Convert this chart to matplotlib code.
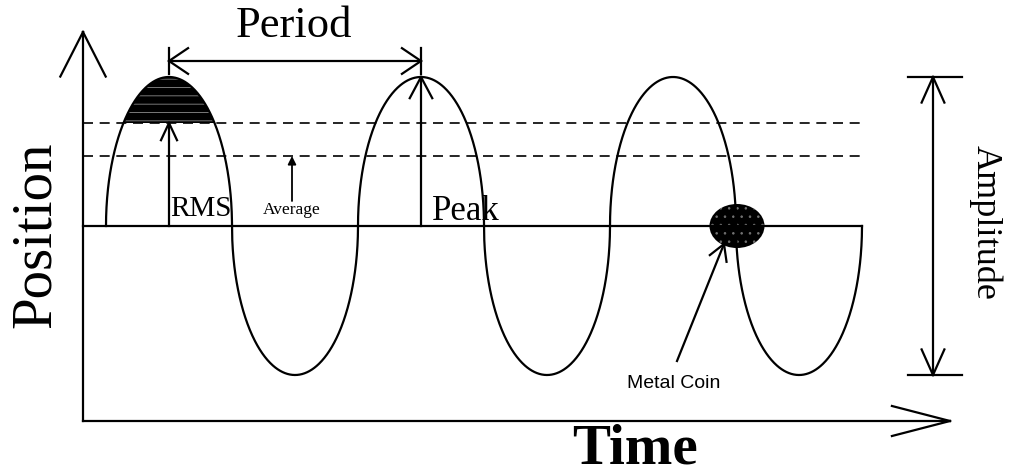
import numpy as np
import matplotlib.pyplot as plt
from matplotlib.patches import Ellipse

plt.rcParams['font.family'] = ['Liberation Serif', 'DejaVu Serif']
plt.rcParams['hatch.linewidth'] = 0.6

# diagram geometry, in picture units (x to the right, y downwards)
wave_start = 106      # first zero crossing
period = 252
cycles = 3
baseline = 227
amplitude = 149
rms_level = 124
avg_level = 157

origin = (83, 422)    # corner of the axes
y_axis_top = 33
x_axis_right = 950

coin_center = (737, 227)
coin_size = (55, 44)
coin_pointer = [(677, 362), (724, 245)]

amp_x = 933
period_y = 62

LW = 1.6


def open_head(ax, tip, toward, length, half_angle):
    # two barbs of an open arrow head, pointing at tip
    d = np.array(toward, float) - np.array(tip, float)
    ang = np.arctan2(d[1], d[0])
    for s in (-1, 1):
        a = ang + s * np.radians(half_angle)
        ax.plot([tip[0], tip[0] + length * np.cos(a)],
                [tip[1], tip[1] + length * np.sin(a)], color='k', lw=LW)


fig = plt.figure(figsize=(10.15, 4.77), dpi=100)
ax = fig.add_axes([0, 0, 1, 1])
ax.set_xlim(0, 1015)
ax.set_ylim(477, 0)
ax.axis('off')

half = period / 2
wave_end = wave_start + cycles * period
peaks = [wave_start + period / 4 + k * period for k in range(cycles)]

# axes
ax.plot([origin[0], origin[0]], [origin[1], y_axis_top], color='k', lw=LW)
open_head(ax, (origin[0], y_axis_top), (origin[0], origin[1]), 50, 27)
ax.plot([origin[0], x_axis_right], [origin[1], origin[1]], color='k', lw=LW)
open_head(ax, (x_axis_right, origin[1]), origin, 60, 14.5)

# the wave: hand-drawn half-elliptical arches, alternating up / down
xs, ys = [], []
for k in range(2 * cycles):
    th = np.linspace(np.pi, 0, 400)
    xs.append(wave_start + k * half + half / 2 * (1 + np.cos(th)))
    sign = 1 if k % 2 == 0 else -1
    ys.append(baseline - sign * amplitude * np.sin(th))
t = np.concatenate(xs)
y = np.concatenate(ys)
ax.plot(t, y, color='k', lw=LW)
ax.plot([origin[0], wave_end], [baseline, baseline], color='k', lw=LW)

# rms / average levels
for lev in (rms_level, avg_level):
    ax.plot([origin[0], wave_end], [lev, lev], color='k', lw=1.2, dashes=(6, 4))

# shaded cap of first peak
m = (y <= rms_level) & (t < wave_start + half)
ax.fill_between(t[m], y[m], rms_level, facecolor='k', edgecolor='0.55',
                hatch='--', lw=0)

# RMS arrow
ax.plot([peaks[0], peaks[0]], [baseline, rms_level], color='k', lw=LW)
open_head(ax, (peaks[0], rms_level), (peaks[0], baseline), 19, 25)
ax.text(peaks[0] + 1, 216, 'RMS', fontsize=21, ha='left', va='baseline')

# average arrow
ax.annotate('', xy=(292, avg_level), xytext=(292, 202),
            arrowprops=dict(arrowstyle='-|>', color='k', lw=1.3,
                            mutation_scale=12, shrinkA=0, shrinkB=0))
ax.text(292, 214, 'Average', fontsize=12.5, ha='center', va='baseline')

# peak arrow
ax.plot([peaks[1], peaks[1]], [baseline, baseline - amplitude], color='k', lw=LW)
open_head(ax, (peaks[1], baseline - amplitude), (peaks[1], baseline), 24, 28)
ax.text(peaks[1] + 11, 220, 'Peak', fontsize=25, ha='left', va='baseline')

# period marker
for px in peaks[:2]:
    ax.plot([px, px], [period_y - 13, period_y + 13], color='k', lw=LW)
ax.plot([peaks[0], peaks[1]], [period_y, period_y], color='k', lw=LW)
open_head(ax, (peaks[0], period_y), (peaks[1], period_y), 23, 34)
open_head(ax, (peaks[1], period_y), (peaks[0], period_y), 23, 34)
ax.text((peaks[0] + peaks[1]) / 2 - 1, 37, 'Period', fontsize=32,
        ha='center', va='baseline')

# amplitude marker
top, bot = baseline - amplitude, baseline + amplitude
for yy in (top, bot):
    ax.plot([amp_x - 25, amp_x + 29], [yy, yy], color='k', lw=LW)
ax.plot([amp_x, amp_x], [top, bot], color='k', lw=LW)
open_head(ax, (amp_x, top), (amp_x, bot), 28, 24)
open_head(ax, (amp_x, bot), (amp_x, top), 28, 24)
ax.text(985, (top + bot) / 2 - 5, 'Amplitude', fontsize=26, rotation=-90,
        ha='center', va='center')

# coin
ax.add_patch(Ellipse(coin_center, coin_size[0], coin_size[1],
                     facecolor='k', edgecolor='0.45', hatch='..', lw=0))
ax.plot(*zip(*coin_pointer), color='k', lw=LW)
open_head(ax, coin_pointer[1], coin_pointer[0], 18, 30)
ax.text(674, 388, 'Metal Coin', fontsize=14, ha='center', va='baseline',
        family=['Liberation Sans', 'DejaVu Sans'])

# axis titles
ax.text(36, 235, 'Position', fontsize=41, rotation=90, ha='center', va='center')
ax.text(635, 464, 'Time', fontsize=41, fontweight='bold', ha='center',
        va='baseline')

fig.savefig('out.png', dpi=100)
